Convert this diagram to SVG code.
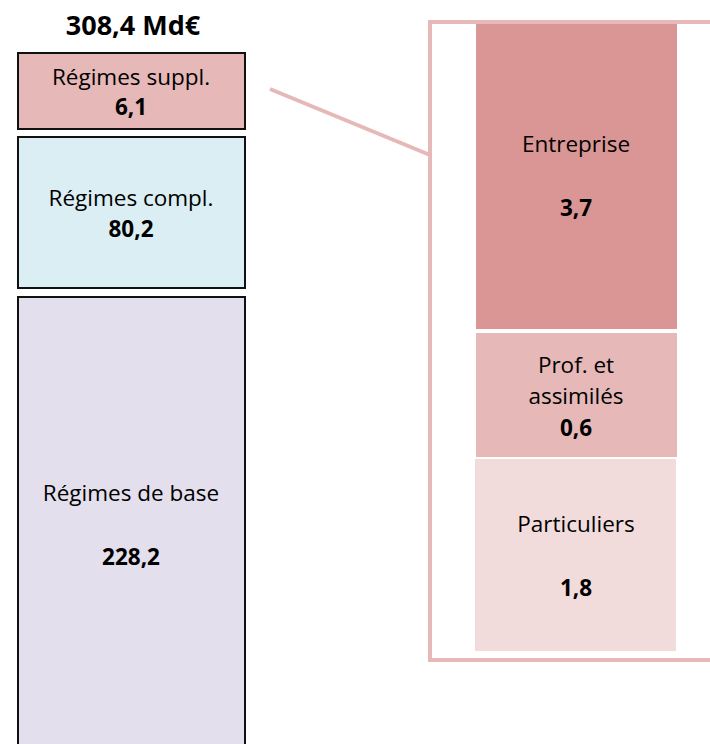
<svg xmlns="http://www.w3.org/2000/svg" width="710" height="744" viewBox="0 0 710 744">
<style>
text{font-family:"Open Sans","Noto Sans","Liberation Sans",sans-serif;font-size:22.5px;fill:#000;text-anchor:middle}
.b{font-weight:bold}
.t{font-size:27px;font-weight:bold}
.lb{stroke:#111;stroke-width:2}
.pk{stroke:#E6B8B7;stroke-width:4;fill:none}
</style>
<rect width="710" height="744" fill="#fff"/>
<text class="t" x="133" y="35">308,4 Md€</text>
<g id="connectors">
<line class="pk" x1="270" y1="89" x2="430" y2="155"/>
<path class="pk" d="M710 22 H430 V660 H710"/>
</g>
<g id="suppl">
<rect class="lb" x="18" y="53" width="227" height="76" fill="#E6B8B7"/>
<text x="131" y="85">Régimes suppl.</text>
<text class="b" x="131" y="115">6,1</text>
</g>
<g id="compl">
<rect class="lb" x="18" y="137" width="227" height="151" fill="#DAEEF3"/>
<text x="131" y="206">Régimes compl.</text>
<text class="b" x="131" y="237">80,2</text>
</g>
<g id="base">
<rect class="lb" x="18" y="297" width="227" height="460" fill="#E4DFEC"/>
<text x="131" y="501">Régimes de base</text>
<text class="b" x="131" y="565">228,2</text>
</g>
<g id="entreprise">
<rect x="476" y="24" width="201" height="305" fill="#DA9694"/>
<text x="576" y="152">Entreprise</text>
<text class="b" x="576" y="216">3,7</text>
</g>
<g id="prof">
<rect x="476" y="333" width="201" height="124" fill="#E6B8B7"/>
<text x="576" y="373">Prof. et</text>
<text x="576" y="404">assimilés</text>
<text class="b" x="576" y="436">0,6</text>
</g>
<g id="particuliers">
<rect x="475" y="459" width="201" height="192" fill="#F2DCDB"/>
<text x="576" y="532">Particuliers</text>
<text class="b" x="576" y="596">1,8</text>
</g>
</svg>
